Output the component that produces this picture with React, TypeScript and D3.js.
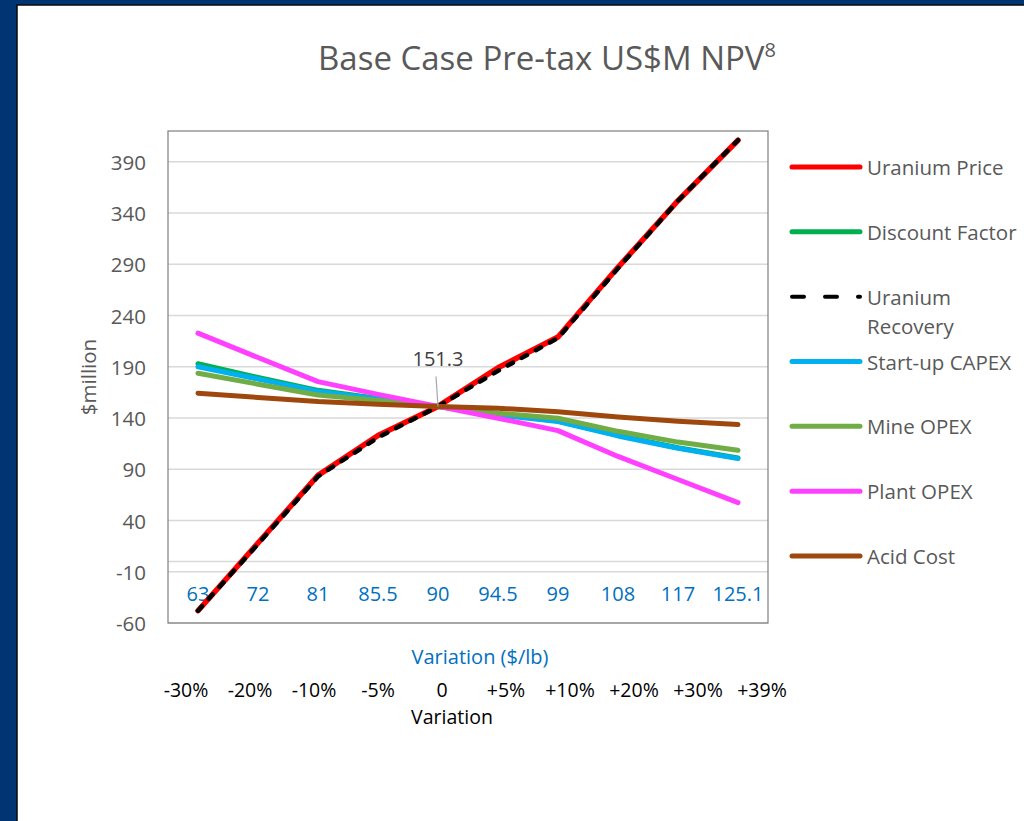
import React from 'react';
import * as d3 from 'd3';

// price points ($/lb) and their variation labels
const prices = ['63', '72', '81', '85.5', '90', '94.5', '99', '108', '117', '125.1'];
const variations = ['-30%', '-20%', '-10%', '-5%', '0', '+5%', '+10%', '+20%', '+30%', '+39%'];
const yTicks = [-60, -10, 40, 90, 140, 190, 240, 290, 340, 390];

// NPV per series, US$M
const uraniumPrice = [-48, 18, 84, 123, 151.3, 189, 219, 287, 352, 411];
const discountFactor = [193, 179.5, 167, 159, 151.3, 143.5, 137, 123, 111, 101];
const uraniumRecovery = [-48, 17, 83, 121, 151.3, 186, 218, 286, 352, 411];
const startupCapex = [190, 178, 166, 158.5, 151.3, 143, 136.5, 122.5, 110.5, 100.4];
const mineOpex = [183.7, 173, 162.5, 157, 151.3, 144.7, 139.8, 127, 116.5, 108.5];
const plantOpex = [222.8, 199, 175.5, 163, 151.3, 139.8, 127.7, 102.5, 80, 57.4];
const acidCost = [164.2, 160, 156, 153.5, 151.3, 149.5, 146.2, 141, 136.8, 133.6];

const baseLabel = 151.3;

const series = [
	{ name: 'Uranium Price', values: uraniumPrice, color: '#FF0000', width: 5.5, dashed: false },
	{ name: 'Discount Factor', values: discountFactor, color: '#00B050', width: 5, dashed: false },
	{ name: 'Uranium Recovery', values: uraniumRecovery, color: '#000000', width: 4.5, dashed: true },
	{ name: 'Start-up CAPEX', values: startupCapex, color: '#00B0F0', width: 5, dashed: false },
	{ name: 'Mine OPEX', values: mineOpex, color: '#70AD47', width: 5, dashed: false },
	{ name: 'Plant OPEX', values: plantOpex, color: '#FF40FF', width: 5, dashed: false },
	{ name: 'Acid Cost', values: acidCost, color: '#9E480E', width: 5, dashed: false },
];

const font = '"Open Sans", sans-serif';
const grey = '#595959';

export default function App() {
	const left = 168;
	const right = 768;
	const top = 131;
	const bottom = 623;

	const x = d3.scalePoint<string>().domain(prices).range([left, right]).padding(0.5);
	const y = d3.scaleLinear().domain([-60, 420]).range([bottom, top]);
	// the variation row is a loose text line under the chart, a bit off the category centres
	const pctX = d3.scalePoint<string>().domain(variations).range([186, 762]);

	const line = (vals: number[]) =>
		d3
			.line<number>()
			.x((_, i) => x(prices[i]) as number)
			.y((d) => y(d))(vals) as string;

	const legendY = d3.scalePoint<string>().domain(series.map((s) => s.name)).range([167, 556]);

	return (
		<div style={{ position: 'absolute', left: 0, top: 0 }}>
			<svg width={1024} height={821} style={{ display: 'block', fontFamily: font }}>
				<rect x={0} y={0} width={1024} height={821} fill="#003472" />
				<rect x={17} y={5} width={1020} height={830} fill="#ffffff" stroke="#0a0a0a" strokeWidth={1.5} />

				<text x={547} y={70} textAnchor="middle" fontSize={33} fill={grey}>
					Base Case Pre-tax US$M NPV
					<tspan fontSize={20} dy={-13}>8</tspan>
				</text>

				{/* gridlines */}
				{yTicks.map((t) => (
					<line key={t} x1={left} x2={right} y1={y(t)} y2={y(t)} stroke="#D9D9D9" strokeWidth={1.3} />
				))}
				<line x1={left} x2={right} y1={y(0)} y2={y(0)} stroke="#D9D9D9" strokeWidth={1.3} />
				<rect x={left} y={top} width={right - left} height={bottom - top} fill="none" stroke="#7F7F7F" strokeWidth={1.2} />

				{/* y tick labels */}
				{yTicks.map((t) => (
					<text key={t} x={146} y={y(t)} textAnchor="end" dominantBaseline="central" fontSize={20.5} fill={grey}>
						{t}
					</text>
				))}
				<text
					transform={`translate(88,${(top + bottom) / 2}) rotate(-90)`}
					textAnchor="middle"
					dominantBaseline="central"
					fontSize={20.5}
					fill={grey}>
					$million
				</text>

				{/* category labels */}
				{prices.map((p) => (
					<text key={p} x={x(p)} y={593} textAnchor="middle" dominantBaseline="central" fontSize={20} fill="#0070C0">
						{p}
					</text>
				))}

				{/* series */}
				{series.map((s) => (
					<path
						key={s.name}
						d={line(s.values)}
						fill="none"
						stroke={s.color}
						strokeWidth={s.width}
						strokeLinecap="round"
						strokeLinejoin="round"
						strokeDasharray={s.dashed ? '6 10' : undefined}
					/>
				))}

				{/* base case label */}
				<line
					x1={(x('90') as number) - 2}
					x2={x('90') as number}
					y1={y(baseLabel) - 30}
					y2={y(baseLabel)}
					stroke="#A6A6A6"
					strokeWidth={1.2}
				/>
				<text x={x('90') as number} y={y(baseLabel) - 48} textAnchor="middle" dominantBaseline="central" fontSize={20} fill="#404040">
					{baseLabel}
				</text>

				{/* x axis titles */}
				<text x={480} y={656} textAnchor="middle" dominantBaseline="central" fontSize={20} fill="#0070C0">
					Variation ($/lb)
				</text>
				{variations.map((v) => (
					<text key={v} x={pctX(v)} y={689} textAnchor="middle" dominantBaseline="central" fontSize={19.5} fill="#000">
						{v}
					</text>
				))}
				<text x={452} y={716} textAnchor="middle" dominantBaseline="central" fontSize={19.5} fill="#000">
					Variation
				</text>

				{/* legend */}
				{series.map((s) => {
					const ly = legendY(s.name) as number;
					const twoLines = s.name === 'Uranium Recovery';
					return (
						<g key={s.name}>
							<line
								x1={792}
								x2={860}
								y1={ly}
								y2={ly}
								stroke={s.color}
								strokeWidth={s.dashed ? 4 : 5}
								strokeLinecap="round"
								strokeDasharray={s.dashed ? '12 21' : undefined}
							/>
							{twoLines ? (
								<text x={867} y={ly} fontSize={20.5} fill={grey} dominantBaseline="central">
									<tspan x={867}>Uranium</tspan>
									<tspan x={867} dy={29}>Recovery</tspan>
								</text>
							) : (
								<text x={867} y={ly} fontSize={20.5} fill={grey} dominantBaseline="central">
									{s.name}
								</text>
							)}
						</g>
					);
				})}
			</svg>
		</div>
	);
}
